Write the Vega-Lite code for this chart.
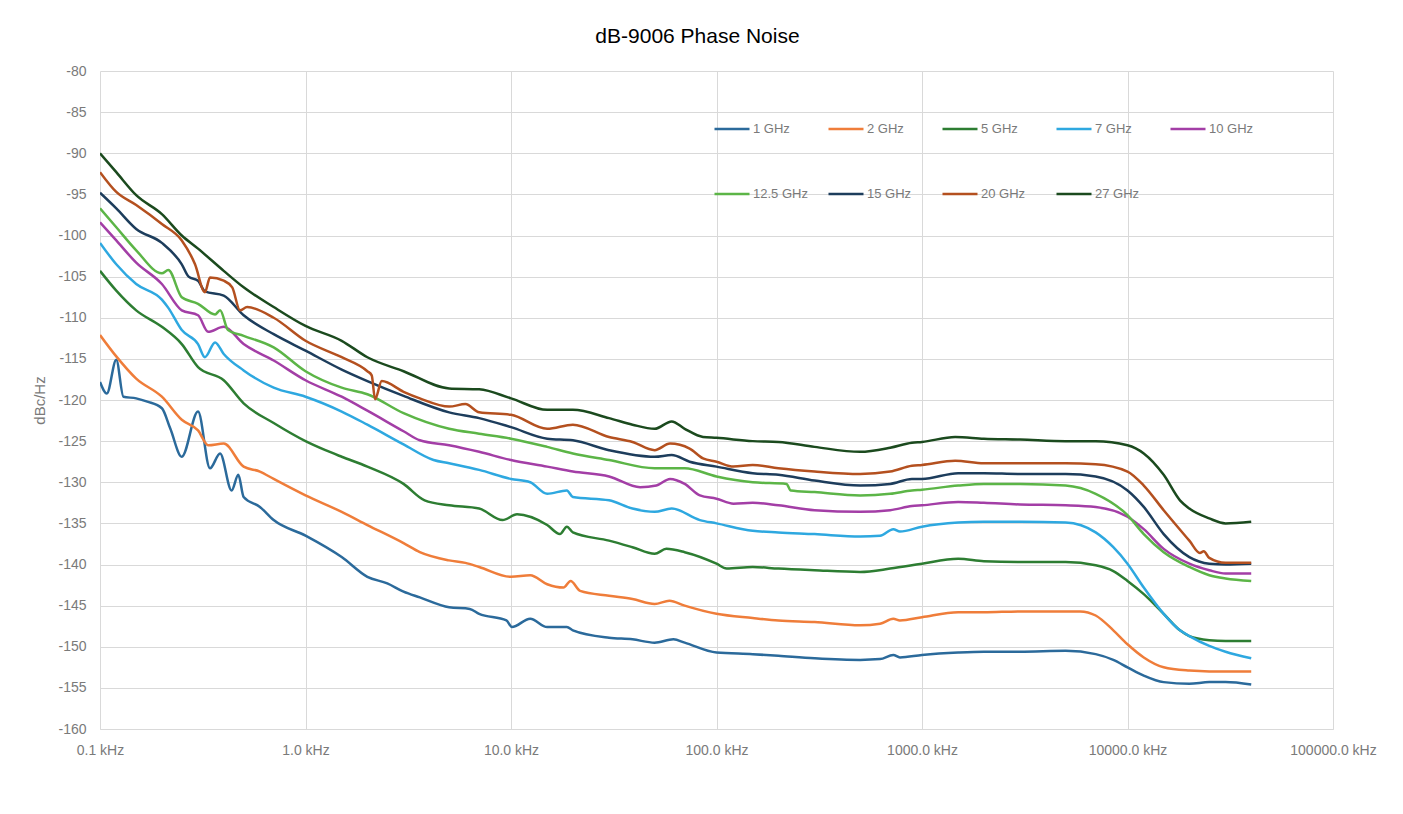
{
"$schema":"https://vega.github.io/schema/vega-lite/v6.json",
"width":1233,"height":658,
"autosize":{"type":"none"},
"padding":{"left":100,"top":71,"right":70,"bottom":85},
"background":"white",
"title":{"text":"dB-9006 Phase Noise","fontSize":21,"font":"Liberation Sans","fontWeight":"normal","color":"#000000","offset":17,"dx":-19},
"config":{"view":{"stroke":null},"axis":{"gridColor":"#d9d9d9","gridWidth":1,"labelColor":"#7a7a7a","labelFont":"Liberation Sans","labelFontSize":14,"titleFont":"Liberation Sans","titleColor":"#7a7a7a","titleFontWeight":"normal","titleFontSize":15,"ticks":false}},
"data":{"values":[
{"s":"1 GHz","f":0.1,"v":-117.8},{"s":"1 GHz","f":0.108,"v":-119.2},{"s":"1 GHz","f":0.12,"v":-115.1},{"s":"1 GHz","f":0.13,"v":-119.6},{"s":"1 GHz","f":0.15,"v":-119.8},{"s":"1 GHz","f":0.17,"v":-120.2},{"s":"1 GHz","f":0.2,"v":-121.0},{"s":"1 GHz","f":0.22,"v":-123.5},{"s":"1 GHz","f":0.25,"v":-126.9},{"s":"1 GHz","f":0.3,"v":-121.4},{"s":"1 GHz","f":0.343,"v":-128.3},{"s":"1 GHz","f":0.384,"v":-126.5},{"s":"1 GHz","f":0.437,"v":-131.0},{"s":"1 GHz","f":0.471,"v":-129.1},{"s":"1 GHz","f":0.5,"v":-131.8},{"s":"1 GHz","f":0.6,"v":-133.0},{"s":"1 GHz","f":0.7,"v":-134.6},{"s":"1 GHz","f":1.0,"v":-136.5},{"s":"1 GHz","f":1.5,"v":-139.1},{"s":"1 GHz","f":2.0,"v":-141.5},{"s":"1 GHz","f":2.5,"v":-142.3},{"s":"1 GHz","f":3.0,"v":-143.3},{"s":"1 GHz","f":3.6,"v":-144.0},{"s":"1 GHz","f":5,"v":-145.2},{"s":"1 GHz","f":6.3,"v":-145.4},{"s":"1 GHz","f":7,"v":-146.0},{"s":"1 GHz","f":9.5,"v":-146.8},{"s":"1 GHz","f":10.1,"v":-147.6},{"s":"1 GHz","f":12.4,"v":-146.6},{"s":"1 GHz","f":15,"v":-147.6},{"s":"1 GHz","f":18.7,"v":-147.6},{"s":"1 GHz","f":20,"v":-148.0},{"s":"1 GHz","f":30,"v":-148.9},{"s":"1 GHz","f":39,"v":-149.1},{"s":"1 GHz","f":50,"v":-149.5},{"s":"1 GHz","f":61.7,"v":-149.1},{"s":"1 GHz","f":70,"v":-149.5},{"s":"1 GHz","f":100,"v":-150.7},{"s":"1 GHz","f":150,"v":-150.9},{"s":"1 GHz","f":200,"v":-151.1},{"s":"1 GHz","f":300,"v":-151.4},{"s":"1 GHz","f":500,"v":-151.6},{"s":"1 GHz","f":625,"v":-151.5},{"s":"1 GHz","f":725,"v":-151.0},{"s":"1 GHz","f":781,"v":-151.3},{"s":"1 GHz","f":1000,"v":-151.0},{"s":"1 GHz","f":1500,"v":-150.7},{"s":"1 GHz","f":2000,"v":-150.6},{"s":"1 GHz","f":3000,"v":-150.6},{"s":"1 GHz","f":5000,"v":-150.5},{"s":"1 GHz","f":7000,"v":-150.9},{"s":"1 GHz","f":8530,"v":-151.6},{"s":"1 GHz","f":10000,"v":-152.5},{"s":"1 GHz","f":12000,"v":-153.5},{"s":"1 GHz","f":15000,"v":-154.3},{"s":"1 GHz","f":20000,"v":-154.5},{"s":"1 GHz","f":25000,"v":-154.3},{"s":"1 GHz","f":30000,"v":-154.3},{"s":"1 GHz","f":40000,"v":-154.6},
{"s":"2 GHz","f":0.1,"v":-112.1},{"s":"2 GHz","f":0.12,"v":-114.7},{"s":"2 GHz","f":0.15,"v":-117.4},{"s":"2 GHz","f":0.2,"v":-119.6},{"s":"2 GHz","f":0.25,"v":-122.4},{"s":"2 GHz","f":0.3,"v":-123.7},{"s":"2 GHz","f":0.336,"v":-125.5},{"s":"2 GHz","f":0.4,"v":-125.3},{"s":"2 GHz","f":0.5,"v":-128.1},{"s":"2 GHz","f":0.6,"v":-128.7},{"s":"2 GHz","f":0.7,"v":-129.6},{"s":"2 GHz","f":1.0,"v":-131.6},{"s":"2 GHz","f":1.5,"v":-133.6},{"s":"2 GHz","f":2.0,"v":-135.2},{"s":"2 GHz","f":3.0,"v":-137.4},{"s":"2 GHz","f":3.6,"v":-138.5},{"s":"2 GHz","f":5,"v":-139.5},{"s":"2 GHz","f":6,"v":-139.8},{"s":"2 GHz","f":7,"v":-140.3},{"s":"2 GHz","f":10,"v":-141.5},{"s":"2 GHz","f":12.4,"v":-141.3},{"s":"2 GHz","f":15,"v":-142.4},{"s":"2 GHz","f":18,"v":-142.8},{"s":"2 GHz","f":19.5,"v":-142.0},{"s":"2 GHz","f":21.7,"v":-143.2},{"s":"2 GHz","f":30,"v":-143.8},{"s":"2 GHz","f":39,"v":-144.2},{"s":"2 GHz","f":50,"v":-144.8},{"s":"2 GHz","f":59,"v":-144.4},{"s":"2 GHz","f":70,"v":-145.0},{"s":"2 GHz","f":100,"v":-146.0},{"s":"2 GHz","f":150,"v":-146.5},{"s":"2 GHz","f":200,"v":-146.8},{"s":"2 GHz","f":300,"v":-147.0},{"s":"2 GHz","f":500,"v":-147.4},{"s":"2 GHz","f":625,"v":-147.2},{"s":"2 GHz","f":725,"v":-146.6},{"s":"2 GHz","f":781,"v":-146.8},{"s":"2 GHz","f":1000,"v":-146.4},{"s":"2 GHz","f":1500,"v":-145.8},{"s":"2 GHz","f":2000,"v":-145.8},{"s":"2 GHz","f":3000,"v":-145.7},{"s":"2 GHz","f":5000,"v":-145.7},{"s":"2 GHz","f":5880,"v":-145.7},{"s":"2 GHz","f":7000,"v":-146.2},{"s":"2 GHz","f":8530,"v":-148.0},{"s":"2 GHz","f":10000,"v":-149.7},{"s":"2 GHz","f":12000,"v":-151.3},{"s":"2 GHz","f":15000,"v":-152.5},{"s":"2 GHz","f":20000,"v":-152.9},{"s":"2 GHz","f":25000,"v":-153.0},{"s":"2 GHz","f":40000,"v":-153.0},
{"s":"5 GHz","f":0.1,"v":-104.3},{"s":"5 GHz","f":0.12,"v":-106.7},{"s":"5 GHz","f":0.15,"v":-109.1},{"s":"5 GHz","f":0.2,"v":-111.1},{"s":"5 GHz","f":0.25,"v":-113.2},{"s":"5 GHz","f":0.3,"v":-116.0},{"s":"5 GHz","f":0.4,"v":-117.6},{"s":"5 GHz","f":0.5,"v":-120.4},{"s":"5 GHz","f":0.7,"v":-122.8},{"s":"5 GHz","f":1.0,"v":-125.0},{"s":"5 GHz","f":1.25,"v":-126.1},{"s":"5 GHz","f":1.5,"v":-126.9},{"s":"5 GHz","f":2.0,"v":-128.1},{"s":"5 GHz","f":3.0,"v":-130.2},{"s":"5 GHz","f":3.8,"v":-132.2},{"s":"5 GHz","f":5,"v":-132.8},{"s":"5 GHz","f":7,"v":-133.2},{"s":"5 GHz","f":9.1,"v":-134.6},{"s":"5 GHz","f":10.7,"v":-133.9},{"s":"5 GHz","f":15,"v":-135.2},{"s":"5 GHz","f":17.3,"v":-136.3},{"s":"5 GHz","f":18.7,"v":-135.4},{"s":"5 GHz","f":20,"v":-136.1},{"s":"5 GHz","f":30,"v":-137.1},{"s":"5 GHz","f":39,"v":-137.9},{"s":"5 GHz","f":50,"v":-138.7},{"s":"5 GHz","f":57,"v":-138.1},{"s":"5 GHz","f":70,"v":-138.5},{"s":"5 GHz","f":100,"v":-139.9},{"s":"5 GHz","f":112,"v":-140.5},{"s":"5 GHz","f":150,"v":-140.3},{"s":"5 GHz","f":200,"v":-140.5},{"s":"5 GHz","f":300,"v":-140.7},{"s":"5 GHz","f":500,"v":-140.9},{"s":"5 GHz","f":700,"v":-140.5},{"s":"5 GHz","f":893,"v":-140.1},{"s":"5 GHz","f":1000,"v":-139.9},{"s":"5 GHz","f":1500,"v":-139.3},{"s":"5 GHz","f":2000,"v":-139.6},{"s":"5 GHz","f":3000,"v":-139.7},{"s":"5 GHz","f":5000,"v":-139.7},{"s":"5 GHz","f":7000,"v":-140.1},{"s":"5 GHz","f":8530,"v":-140.8},{"s":"5 GHz","f":10000,"v":-142.0},{"s":"5 GHz","f":12000,"v":-143.6},{"s":"5 GHz","f":15000,"v":-146.0},{"s":"5 GHz","f":18000,"v":-148.0},{"s":"5 GHz","f":20000,"v":-148.7},{"s":"5 GHz","f":25000,"v":-149.2},{"s":"5 GHz","f":30000,"v":-149.3},{"s":"5 GHz","f":40000,"v":-149.3},
{"s":"7 GHz","f":0.1,"v":-100.9},{"s":"7 GHz","f":0.12,"v":-103.5},{"s":"7 GHz","f":0.15,"v":-105.9},{"s":"7 GHz","f":0.2,"v":-107.8},{"s":"7 GHz","f":0.215,"v":-108.8},{"s":"7 GHz","f":0.25,"v":-111.5},{"s":"7 GHz","f":0.3,"v":-113.2},{"s":"7 GHz","f":0.324,"v":-114.8},{"s":"7 GHz","f":0.363,"v":-113.0},{"s":"7 GHz","f":0.4,"v":-114.4},{"s":"7 GHz","f":0.5,"v":-116.4},{"s":"7 GHz","f":0.7,"v":-118.5},{"s":"7 GHz","f":1.0,"v":-119.6},{"s":"7 GHz","f":1.5,"v":-121.4},{"s":"7 GHz","f":2.0,"v":-123.0},{"s":"7 GHz","f":3.0,"v":-125.4},{"s":"7 GHz","f":4.2,"v":-127.3},{"s":"7 GHz","f":5,"v":-127.7},{"s":"7 GHz","f":7,"v":-128.5},{"s":"7 GHz","f":10,"v":-129.6},{"s":"7 GHz","f":12.4,"v":-130.0},{"s":"7 GHz","f":15,"v":-131.4},{"s":"7 GHz","f":18.7,"v":-131.0},{"s":"7 GHz","f":20,"v":-131.8},{"s":"7 GHz","f":30,"v":-132.2},{"s":"7 GHz","f":39,"v":-133.2},{"s":"7 GHz","f":50,"v":-133.6},{"s":"7 GHz","f":60.5,"v":-133.2},{"s":"7 GHz","f":83,"v":-134.6},{"s":"7 GHz","f":100,"v":-135.0},{"s":"7 GHz","f":150,"v":-135.9},{"s":"7 GHz","f":200,"v":-136.1},{"s":"7 GHz","f":300,"v":-136.3},{"s":"7 GHz","f":500,"v":-136.6},{"s":"7 GHz","f":625,"v":-136.5},{"s":"7 GHz","f":725,"v":-135.7},{"s":"7 GHz","f":781,"v":-136.0},{"s":"7 GHz","f":1000,"v":-135.4},{"s":"7 GHz","f":1500,"v":-134.9},{"s":"7 GHz","f":2000,"v":-134.8},{"s":"7 GHz","f":3000,"v":-134.8},{"s":"7 GHz","f":5000,"v":-134.9},{"s":"7 GHz","f":7000,"v":-136.1},{"s":"7 GHz","f":8530,"v":-137.9},{"s":"7 GHz","f":10000,"v":-139.9},{"s":"7 GHz","f":12000,"v":-142.8},{"s":"7 GHz","f":15000,"v":-146.0},{"s":"7 GHz","f":18000,"v":-148.0},{"s":"7 GHz","f":20000,"v":-148.7},{"s":"7 GHz","f":25000,"v":-149.9},{"s":"7 GHz","f":30000,"v":-150.6},{"s":"7 GHz","f":40000,"v":-151.4},
{"s":"10 GHz","f":0.1,"v":-98.4},{"s":"10 GHz","f":0.12,"v":-100.6},{"s":"10 GHz","f":0.15,"v":-103.3},{"s":"10 GHz","f":0.2,"v":-105.9},{"s":"10 GHz","f":0.25,"v":-109.1},{"s":"10 GHz","f":0.3,"v":-109.7},{"s":"10 GHz","f":0.336,"v":-111.7},{"s":"10 GHz","f":0.4,"v":-111.1},{"s":"10 GHz","f":0.5,"v":-113.2},{"s":"10 GHz","f":0.7,"v":-115.2},{"s":"10 GHz","f":1.0,"v":-117.6},{"s":"10 GHz","f":1.5,"v":-119.6},{"s":"10 GHz","f":2.0,"v":-121.3},{"s":"10 GHz","f":3.0,"v":-123.8},{"s":"10 GHz","f":3.6,"v":-124.9},{"s":"10 GHz","f":5,"v":-125.5},{"s":"10 GHz","f":7,"v":-126.3},{"s":"10 GHz","f":10,"v":-127.3},{"s":"10 GHz","f":15,"v":-128.1},{"s":"10 GHz","f":20,"v":-128.7},{"s":"10 GHz","f":30,"v":-129.3},{"s":"10 GHz","f":42.5,"v":-130.6},{"s":"10 GHz","f":51,"v":-130.4},{"s":"10 GHz","f":59.4,"v":-129.6},{"s":"10 GHz","f":70,"v":-130.2},{"s":"10 GHz","f":83,"v":-131.6},{"s":"10 GHz","f":100,"v":-132.0},{"s":"10 GHz","f":121,"v":-132.6},{"s":"10 GHz","f":150,"v":-132.5},{"s":"10 GHz","f":200,"v":-132.8},{"s":"10 GHz","f":300,"v":-133.4},{"s":"10 GHz","f":500,"v":-133.6},{"s":"10 GHz","f":700,"v":-133.4},{"s":"10 GHz","f":893,"v":-132.9},{"s":"10 GHz","f":1000,"v":-132.8},{"s":"10 GHz","f":1500,"v":-132.4},{"s":"10 GHz","f":2000,"v":-132.5},{"s":"10 GHz","f":3000,"v":-132.7},{"s":"10 GHz","f":5000,"v":-132.8},{"s":"10 GHz","f":7000,"v":-133.0},{"s":"10 GHz","f":10000,"v":-134.2},{"s":"10 GHz","f":12000,"v":-135.7},{"s":"10 GHz","f":15000,"v":-138.1},{"s":"10 GHz","f":20000,"v":-139.9},{"s":"10 GHz","f":25000,"v":-140.7},{"s":"10 GHz","f":30000,"v":-141.1},{"s":"10 GHz","f":40000,"v":-141.1},
{"s":"12.5 GHz","f":0.1,"v":-96.7},{"s":"12.5 GHz","f":0.12,"v":-99.0},{"s":"12.5 GHz","f":0.15,"v":-101.8},{"s":"12.5 GHz","f":0.2,"v":-104.6},{"s":"12.5 GHz","f":0.215,"v":-104.2},{"s":"12.5 GHz","f":0.25,"v":-107.5},{"s":"12.5 GHz","f":0.3,"v":-108.3},{"s":"12.5 GHz","f":0.363,"v":-109.6},{"s":"12.5 GHz","f":0.384,"v":-109.1},{"s":"12.5 GHz","f":0.42,"v":-111.5},{"s":"12.5 GHz","f":0.5,"v":-112.2},{"s":"12.5 GHz","f":0.7,"v":-113.6},{"s":"12.5 GHz","f":1.0,"v":-116.5},{"s":"12.5 GHz","f":1.5,"v":-118.5},{"s":"12.5 GHz","f":2.0,"v":-119.3},{"s":"12.5 GHz","f":3.0,"v":-121.6},{"s":"12.5 GHz","f":5,"v":-123.5},{"s":"12.5 GHz","f":7,"v":-124.1},{"s":"12.5 GHz","f":10,"v":-124.7},{"s":"12.5 GHz","f":15,"v":-125.7},{"s":"12.5 GHz","f":20,"v":-126.5},{"s":"12.5 GHz","f":30,"v":-127.3},{"s":"12.5 GHz","f":50,"v":-128.3},{"s":"12.5 GHz","f":70,"v":-128.3},{"s":"12.5 GHz","f":100,"v":-129.3},{"s":"12.5 GHz","f":150,"v":-130.0},{"s":"12.5 GHz","f":219,"v":-130.2},{"s":"12.5 GHz","f":230,"v":-131.0},{"s":"12.5 GHz","f":300,"v":-131.2},{"s":"12.5 GHz","f":500,"v":-131.6},{"s":"12.5 GHz","f":700,"v":-131.4},{"s":"12.5 GHz","f":893,"v":-131.0},{"s":"12.5 GHz","f":1000,"v":-130.9},{"s":"12.5 GHz","f":1500,"v":-130.4},{"s":"12.5 GHz","f":2000,"v":-130.2},{"s":"12.5 GHz","f":3000,"v":-130.2},{"s":"12.5 GHz","f":5000,"v":-130.4},{"s":"12.5 GHz","f":7000,"v":-131.4},{"s":"12.5 GHz","f":10000,"v":-134.0},{"s":"12.5 GHz","f":12000,"v":-136.3},{"s":"12.5 GHz","f":15000,"v":-138.5},{"s":"12.5 GHz","f":20000,"v":-140.3},{"s":"12.5 GHz","f":25000,"v":-141.3},{"s":"12.5 GHz","f":30000,"v":-141.7},{"s":"12.5 GHz","f":40000,"v":-142.0},
{"s":"15 GHz","f":0.1,"v":-94.8},{"s":"15 GHz","f":0.12,"v":-96.7},{"s":"15 GHz","f":0.15,"v":-99.2},{"s":"15 GHz","f":0.2,"v":-100.9},{"s":"15 GHz","f":0.25,"v":-103.5},{"s":"15 GHz","f":0.27,"v":-105.0},{"s":"15 GHz","f":0.3,"v":-105.5},{"s":"15 GHz","f":0.324,"v":-106.8},{"s":"15 GHz","f":0.4,"v":-107.3},{"s":"15 GHz","f":0.5,"v":-109.7},{"s":"15 GHz","f":0.7,"v":-112.0},{"s":"15 GHz","f":1.0,"v":-114.0},{"s":"15 GHz","f":1.5,"v":-116.3},{"s":"15 GHz","f":2.0,"v":-117.7},{"s":"15 GHz","f":3.0,"v":-119.5},{"s":"15 GHz","f":5,"v":-121.5},{"s":"15 GHz","f":7,"v":-122.2},{"s":"15 GHz","f":10,"v":-123.3},{"s":"15 GHz","f":15,"v":-124.7},{"s":"15 GHz","f":20,"v":-124.9},{"s":"15 GHz","f":30,"v":-126.1},{"s":"15 GHz","f":50,"v":-126.9},{"s":"15 GHz","f":60.5,"v":-126.7},{"s":"15 GHz","f":74,"v":-127.5},{"s":"15 GHz","f":100,"v":-128.1},{"s":"15 GHz","f":150,"v":-128.9},{"s":"15 GHz","f":200,"v":-129.1},{"s":"15 GHz","f":300,"v":-129.8},{"s":"15 GHz","f":500,"v":-130.4},{"s":"15 GHz","f":700,"v":-130.2},{"s":"15 GHz","f":893,"v":-129.6},{"s":"15 GHz","f":1000,"v":-129.6},{"s":"15 GHz","f":1500,"v":-128.9},{"s":"15 GHz","f":2000,"v":-128.9},{"s":"15 GHz","f":3000,"v":-129.0},{"s":"15 GHz","f":5000,"v":-129.0},{"s":"15 GHz","f":7000,"v":-129.3},{"s":"15 GHz","f":10000,"v":-131.0},{"s":"15 GHz","f":12000,"v":-133.0},{"s":"15 GHz","f":15000,"v":-136.3},{"s":"15 GHz","f":20000,"v":-139.1},{"s":"15 GHz","f":25000,"v":-139.9},{"s":"15 GHz","f":30000,"v":-140.0},{"s":"15 GHz","f":40000,"v":-139.9},
{"s":"20 GHz","f":0.1,"v":-92.3},{"s":"20 GHz","f":0.12,"v":-94.7},{"s":"20 GHz","f":0.15,"v":-96.3},{"s":"20 GHz","f":0.2,"v":-98.6},{"s":"20 GHz","f":0.25,"v":-100.6},{"s":"20 GHz","f":0.29,"v":-103.5},{"s":"20 GHz","f":0.324,"v":-106.9},{"s":"20 GHz","f":0.343,"v":-105.1},{"s":"20 GHz","f":0.4,"v":-105.5},{"s":"20 GHz","f":0.44,"v":-106.3},{"s":"20 GHz","f":0.48,"v":-109.1},{"s":"20 GHz","f":0.52,"v":-108.7},{"s":"20 GHz","f":0.7,"v":-110.0},{"s":"20 GHz","f":1.0,"v":-112.8},{"s":"20 GHz","f":1.5,"v":-114.8},{"s":"20 GHz","f":2.0,"v":-116.5},{"s":"20 GHz","f":2.1,"v":-117.0},{"s":"20 GHz","f":2.18,"v":-119.9},{"s":"20 GHz","f":2.35,"v":-117.7},{"s":"20 GHz","f":3.0,"v":-119.0},{"s":"20 GHz","f":3.6,"v":-119.8},{"s":"20 GHz","f":5,"v":-120.8},{"s":"20 GHz","f":6,"v":-120.5},{"s":"20 GHz","f":7,"v":-121.5},{"s":"20 GHz","f":10,"v":-121.8},{"s":"20 GHz","f":15,"v":-123.5},{"s":"20 GHz","f":20,"v":-123.0},{"s":"20 GHz","f":30,"v":-124.5},{"s":"20 GHz","f":39,"v":-125.1},{"s":"20 GHz","f":50,"v":-126.1},{"s":"20 GHz","f":59.4,"v":-125.3},{"s":"20 GHz","f":74,"v":-125.9},{"s":"20 GHz","f":86,"v":-127.1},{"s":"20 GHz","f":100,"v":-127.5},{"s":"20 GHz","f":121,"v":-128.1},{"s":"20 GHz","f":150,"v":-127.9},{"s":"20 GHz","f":200,"v":-128.3},{"s":"20 GHz","f":300,"v":-128.7},{"s":"20 GHz","f":500,"v":-129.0},{"s":"20 GHz","f":700,"v":-128.7},{"s":"20 GHz","f":893,"v":-128.0},{"s":"20 GHz","f":1000,"v":-127.9},{"s":"20 GHz","f":1450,"v":-127.4},{"s":"20 GHz","f":2000,"v":-127.7},{"s":"20 GHz","f":3000,"v":-127.7},{"s":"20 GHz","f":5000,"v":-127.7},{"s":"20 GHz","f":7000,"v":-127.8},{"s":"20 GHz","f":10000,"v":-128.7},{"s":"20 GHz","f":12000,"v":-130.4},{"s":"20 GHz","f":15000,"v":-133.4},{"s":"20 GHz","f":20000,"v":-137.1},{"s":"20 GHz","f":22500,"v":-138.6},{"s":"20 GHz","f":23500,"v":-138.4},{"s":"20 GHz","f":25000,"v":-139.2},{"s":"20 GHz","f":30000,"v":-139.8},{"s":"20 GHz","f":40000,"v":-139.8},
{"s":"27 GHz","f":0.1,"v":-90.0},{"s":"27 GHz","f":0.12,"v":-92.3},{"s":"27 GHz","f":0.15,"v":-95.1},{"s":"27 GHz","f":0.2,"v":-97.4},{"s":"27 GHz","f":0.25,"v":-100.0},{"s":"27 GHz","f":0.3,"v":-101.6},{"s":"27 GHz","f":0.4,"v":-104.3},{"s":"27 GHz","f":0.5,"v":-106.3},{"s":"27 GHz","f":0.7,"v":-108.7},{"s":"27 GHz","f":1.0,"v":-111.0},{"s":"27 GHz","f":1.5,"v":-112.8},{"s":"27 GHz","f":2.0,"v":-114.8},{"s":"27 GHz","f":3.0,"v":-116.5},{"s":"27 GHz","f":5,"v":-118.6},{"s":"27 GHz","f":7,"v":-118.7},{"s":"27 GHz","f":10,"v":-119.8},{"s":"27 GHz","f":15,"v":-121.2},{"s":"27 GHz","f":20,"v":-121.2},{"s":"27 GHz","f":30,"v":-122.2},{"s":"27 GHz","f":39,"v":-123.0},{"s":"27 GHz","f":50,"v":-123.5},{"s":"27 GHz","f":60.5,"v":-122.6},{"s":"27 GHz","f":70,"v":-123.5},{"s":"27 GHz","f":86,"v":-124.5},{"s":"27 GHz","f":100,"v":-124.6},{"s":"27 GHz","f":150,"v":-125.0},{"s":"27 GHz","f":200,"v":-125.1},{"s":"27 GHz","f":300,"v":-125.7},{"s":"27 GHz","f":500,"v":-126.3},{"s":"27 GHz","f":700,"v":-125.8},{"s":"27 GHz","f":893,"v":-125.2},{"s":"27 GHz","f":1000,"v":-125.1},{"s":"27 GHz","f":1450,"v":-124.5},{"s":"27 GHz","f":2000,"v":-124.7},{"s":"27 GHz","f":3000,"v":-124.8},{"s":"27 GHz","f":5000,"v":-125.0},{"s":"27 GHz","f":7000,"v":-125.0},{"s":"27 GHz","f":10000,"v":-125.5},{"s":"27 GHz","f":12000,"v":-126.5},{"s":"27 GHz","f":15000,"v":-129.1},{"s":"27 GHz","f":18000,"v":-132.2},{"s":"27 GHz","f":20000,"v":-133.2},{"s":"27 GHz","f":25000,"v":-134.4},{"s":"27 GHz","f":30000,"v":-135.0},{"s":"27 GHz","f":40000,"v":-134.8}
]},
"mark":{"type":"line","strokeWidth":2.5,"clip":true,"interpolate":"monotone"},
"encoding":{
"x":{"field":"f","type":"quantitative","scale":{"type":"log","domain":[0.1,100000]},"axis":{"values":[0.1,1,10,100,1000,10000,100000],"labelExpr":"format(datum.value,'.1f') + ' kHz'","title":null,"grid":true,"domain":true,"domainColor":"#d9d9d9","labelPadding":14,"labelFlush":false,"labelOverlap":false,"labelBound":false}},
"y":{"field":"v","type":"quantitative","scale":{"domain":[-160,-80],"nice":false,"zero":false},"axis":{"values":[-160,-155,-150,-145,-140,-135,-130,-125,-120,-115,-110,-105,-100,-95,-90,-85,-80],"labelExpr":"'' + datum.value","title":"dBc/Hz","grid":true,"domain":false,"labelPadding":14,"titlePadding":10}},
"color":{"field":"s","type":"nominal","scale":{"domain":["1 GHz","2 GHz","5 GHz","7 GHz","10 GHz","12.5 GHz","15 GHz","20 GHz","27 GHz"],"range":["#2b6a9b","#ef7d3a","#2d7d32","#2ea8e0","#a33ea6","#5cb547","#1d3d5c","#b4501f","#1b4a1e"]},"legend":{"orient":"none","legendX":613,"legendY":39,"direction":"horizontal","columns":5,"title":null,"symbolType":"stroke","symbolSize":1225,"symbolStrokeWidth":2.5,"labelFont":"Liberation Sans","labelFontSize":13,"labelColor":"#7a7a7a","labelOffset":2,"gridAlign":"all","columnPadding":15,"rowPadding":39}}
}
}
